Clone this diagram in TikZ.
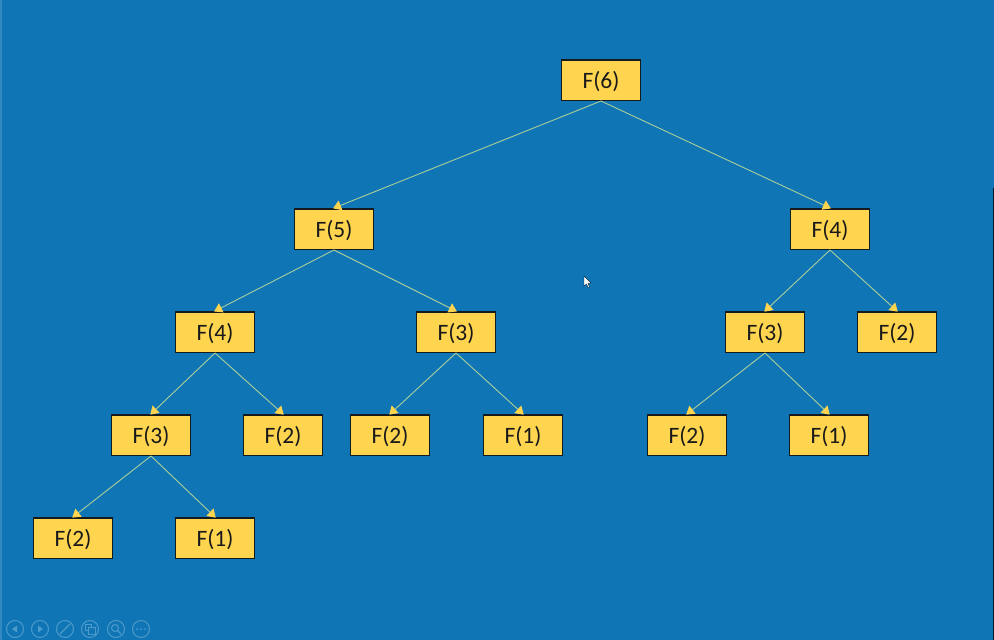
\documentclass[tikz,border=0pt]{standalone}
\usepackage{fontspec}
\setmainfont{Carlito}
\usepackage{xcolor}
\usetikzlibrary{arrows.meta,positioning}
\definecolor{SlideBG}   {HTML}{1075B5}
\definecolor{CallFill}  {HTML}{FFD550}
\definecolor{CallEdge}  {HTML}{141A1E}
\definecolor{CallLine}  {HTML}{A9CF9B}
\definecolor{CallTip}   {HTML}{FFD550}
\definecolor{ToolIcon}  {HTML}{4C9BCB}
\tikzset{
  callbox/.style={fill=CallFill,draw=CallEdge,line width=1.5pt,minimum width=79pt,
    minimum height=40.5pt,inner sep=0pt,text height=17.4pt,text depth=0pt,
    font=\fontsize{23.5}{23.5}\selectfont,text=black!90},
  callline/.style={draw=CallLine,line width=0.9pt,
    -{Triangle[length=8pt,width=10pt,fill=CallTip,color=CallTip]},shorten >=-1pt},
  toolicon/.style={circle,draw=ToolIcon,line width=1pt,minimum size=17pt,inner sep=0pt}
}
\begin{document}
\begin{tikzpicture}[x=1pt,y=-1pt]
  \fill[SlideBG] (0,0) rectangle (994,640);
  \useasboundingbox (0,0) rectangle (994,640);
  \fill[SlideBG!85!white] (0,0) rectangle (2,640);
  \fill[black!80!SlideBG] (992.5,188) rectangle (994,640);
  % calls, level by level
  \node[callbox] (six) at (601,80) {F(6)};
  \node[callbox] (fiveL) at (334,229) {F(5)};
  \node[callbox] (fourR) at (830,229) {F(4)};
  \node[callbox] (fourL) at (215,332) {F(4)};
  \node[callbox] (threeM) at (456,332) {F(3)};
  \node[callbox] (threeR) at (765,332) {F(3)};
  \node[callbox] (twoR) at (897,332) {F(2)};
  \node[callbox] (threeL) at (151,435) {F(3)};
  \node[callbox] (twoA) at (283,435) {F(2)};
  \node[callbox] (twoB) at (390,435) {F(2)};
  \node[callbox] (oneB) at (523,435) {F(1)};
  \node[callbox] (twoC) at (687,435) {F(2)};
  \node[callbox] (oneC) at (829,435) {F(1)};
  \node[callbox] (twoD) at (73,538) {F(2)};
  \node[callbox] (oneD) at (215,538) {F(1)};
  % connectors
  \foreach \from/\to in {six/fiveL,six/fourR,fiveL/fourL,fiveL/threeM,fourR/threeR,fourR/twoR,
      fourL/threeL,fourL/twoA,threeM/twoB,threeM/oneB,threeR/twoC,threeR/oneC,threeL/twoD,threeL/oneD}
    \draw[callline] (\from.south) -- (\to.north);
  % slide show toolbar
  \node[toolicon] (back) at (15,629) {};
  \node[toolicon] (next) at (40,629) {};
  \node[toolicon] (pen) at (65,629) {};
  \node[toolicon] (pages) at (90,629) {};
  \node[toolicon] (zoom) at (116,629) {};
  \node[toolicon] (more) at (141,629) {};
  \fill[ToolIcon] (12,629) -- (17,625.5) -- (17,632.5) -- cycle;
  \fill[ToolIcon] (43,629) -- (38,625.5) -- (38,632.5) -- cycle;
  \draw[ToolIcon,line width=1.4pt] (60,634) -- (70,624);
  \draw[ToolIcon,line width=1pt] (85,624) rectangle (91,630);
  \draw[ToolIcon,line width=1pt,fill=SlideBG] (88,627) rectangle (95,634);
  \draw[ToolIcon,line width=1pt] (115,628) circle (3.5pt);
  \draw[ToolIcon,line width=1.2pt] (117.5,630.5) -- (121,634);
  \foreach \dotx in {137,141,145}
    \fill[ToolIcon] (\dotx,629) circle (1pt);
  % pointer
  \fill[white,draw=black!70!SlideBG,line width=0.4pt] (584,276) -- (584,286) -- (586.5,284) -- (588,287.5)
    -- (589.5,286.8) -- (588,283.5) -- (591,283) -- cycle;
\end{tikzpicture}
\end{document}
